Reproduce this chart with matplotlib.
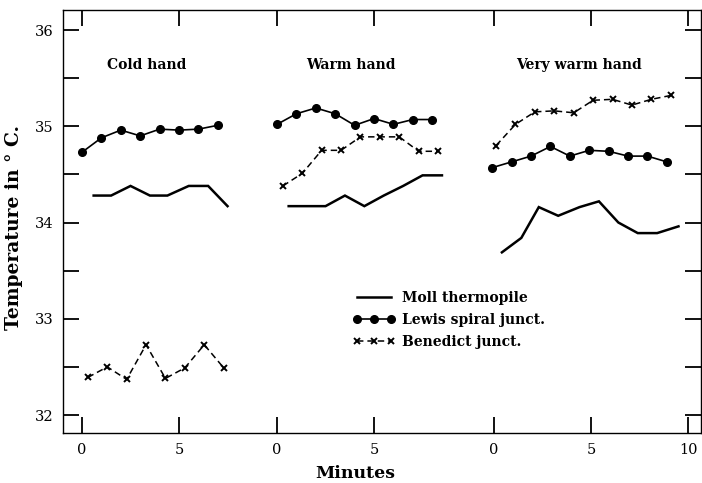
import matplotlib
matplotlib.use('Agg')
import matplotlib.pyplot as plt

# ---- data -------------------------------------------------------------
panels = ['Cold hand', 'Warm hand', 'Very warm hand']
panel_offset = [0.0, 10.05, 21.24]          # where each panel's minute 0 sits
panel_ticks = [[0, 5], [0, 5], [0, 5, 10]]

moll_t = [[0.6, 1.5, 2.5, 3.5, 4.4, 5.5, 6.5, 7.5],
          [0.6, 1.5, 2.5, 3.5, 4.5, 5.5, 6.5, 7.5, 8.5],
          [0.4, 1.4, 2.3, 3.3, 4.4, 5.4, 6.4, 7.4, 8.4, 9.5]]
moll_v = [[34.28, 34.28, 34.38, 34.28, 34.28, 34.38, 34.38, 34.17],
          [34.17, 34.17, 34.17, 34.28, 34.17, 34.28, 34.38, 34.49, 34.49],
          [33.69, 33.84, 34.16, 34.07, 34.16, 34.22, 34.00, 33.89, 33.89, 33.96]]

lewis_t = [[0, 1, 2, 3, 4, 5, 6, 7],
           [0, 1, 2, 3, 4, 5, 6, 7, 8],
           [-0.1, 0.9, 1.9, 2.9, 3.9, 4.9, 5.9, 6.9, 7.9, 8.9]]
lewis_v = [[34.73, 34.88, 34.96, 34.90, 34.97, 34.96, 34.97, 35.01],
           [35.02, 35.13, 35.19, 35.13, 35.01, 35.08, 35.02, 35.07, 35.07],
           [34.57, 34.63, 34.69, 34.79, 34.69, 34.75, 34.74, 34.69, 34.69, 34.63]]

bened_t = [[0.3, 1.3, 2.3, 3.3, 4.3, 5.3, 6.3, 7.3],
           [0.3, 1.3, 2.3, 3.3, 4.3, 5.3, 6.3, 7.3, 8.3],
           [0.1, 1.1, 2.1, 3.1, 4.1, 5.1, 6.1, 7.1, 8.1, 9.1]]
bened_v = [[32.39, 32.50, 32.37, 32.73, 32.38, 32.49, 32.73, 32.49],
           [34.38, 34.51, 34.75, 34.75, 34.89, 34.89, 34.89, 34.74, 34.74],
           [34.80, 35.02, 35.15, 35.16, 35.14, 35.27, 35.28, 35.22, 35.28, 35.32]]

series_labels = ['Moll thermopile', 'Lewis spiral junct.', 'Benedict junct.']
y_ticks = [32, 33, 34, 35, 36]

# ---- figure -----------------------------------------------------------
plt.rcParams['font.family'] = ['DejaVu Serif']
fig = plt.figure(figsize=(7.02, 4.83), dpi=100)
ax = fig.add_axes([63 / 702, 50 / 483, 638 / 702, 423 / 483])

handles = []
for i in range(3):
    off = panel_offset[i]
    h1, = ax.plot([t + off for t in moll_t[i]], moll_v[i], color='black',
                  lw=1.8, solid_joinstyle='miter')
    h2, = ax.plot([t + off for t in lewis_t[i]], lewis_v[i], color='black',
                  lw=1.2, marker='o', ms=5.5)
    h3, = ax.plot([t + off for t in bened_t[i]], bened_v[i], color='black',
                  lw=1.1, ls=(0, (4.2, 2.6)), marker='x', ms=4, mew=1.4)
    if i == 0:
        handles = [h1, h2, h3]

title_pos = [3.33, 3.79, 4.36]
for i, name in enumerate(panels):
    ax.text(panel_offset[i] + title_pos[i], 35.64, name, ha='center',
            va='center', fontsize=10, fontweight='bold')

xt, xl = [], []
for i in range(3):
    for t in panel_ticks[i]:
        xt.append(panel_offset[i] + t)
        xl.append(str(t))
ax.set_xticks(xt)
ax.set_xticklabels(xl, fontsize=10.5)
ax.set_yticks(y_ticks)
ax.set_yticklabels([str(v) for v in y_ticks], fontsize=10.5)
ax.set_yticks([v + 0.5 for v in y_ticks[:-1]], minor=True)

ax.set_xlim(-0.98, 31.9)
ax.set_ylim(31.813, 36.208)

ax.tick_params(axis='both', which='both', direction='in', length=11.5,
               width=1.3, top=True, right=True, color='black')
ax.tick_params(axis='x', pad=7)
ax.tick_params(axis='y', pad=7)
for s in ax.spines.values():
    s.set_linewidth(1.0)

ax.legend(handles, series_labels, loc='upper left',
          bbox_to_anchor=(0.4537, 0.335), frameon=False, borderpad=0,
          borderaxespad=0, handlelength=3.1, handletextpad=0.5,
          labelspacing=0.55, numpoints=3,
          prop=dict(family='DejaVu Serif', weight='bold', size=10))

fig.text(355 / 702, 4.5 / 483, 'Minutes', ha='center', va='baseline',
         fontsize=12.5, fontweight='bold')
fig.text(14 / 702, 1 - 228 / 483, 'Temperature in ° C.', ha='center',
         va='center', rotation=90, fontsize=13.5, fontweight='bold')

fig.savefig('out.png', dpi=100)
